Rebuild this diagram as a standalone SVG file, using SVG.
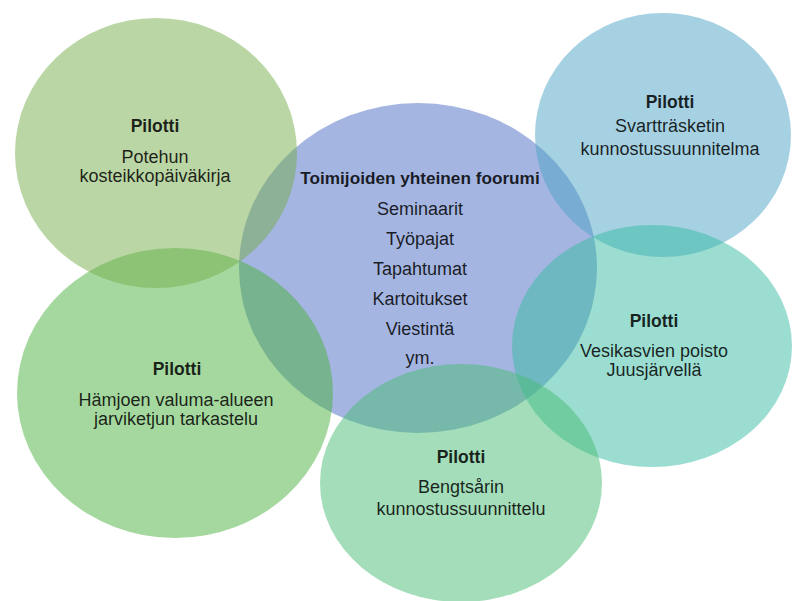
<svg xmlns="http://www.w3.org/2000/svg" width="793" height="601" viewBox="0 0 793 601">
<style>
.c{fill-opacity:0.5;stroke:none}
text{font-family:"Liberation Sans",Arial,sans-serif;text-anchor:middle;fill:#000;fill-opacity:0.85}
.b{font-weight:bold;font-size:17.5px}
.r{font-size:18px}
.t{font-weight:bold;font-size:17.2px}
</style>
<rect width="793" height="601" fill="#ffffff"/>
<g id="connectors"/>
<g id="node-center">
<ellipse class="c" cx="418" cy="268" rx="179" ry="165" fill="#496bc3"/>
<text class="t" x="420" y="184">Toimijoiden yhteinen foorumi</text>
<text class="r" x="420" y="215">Seminaarit</text>
<text class="r" x="420" y="245">Työpajat</text>
<text class="r" x="420" y="275">Tapahtumat</text>
<text class="r" x="420" y="305">Kartoitukset</text>
<text class="r" x="420" y="335">Viestintä</text>
<text class="r" x="420" y="364">ym.</text>
</g>
<g id="node-svarttrasket">
<ellipse class="c" cx="663" cy="135" rx="128" ry="122" fill="#4ba3c5"/>
<text class="b" x="670" y="108">Pilotti</text>
<text class="r" x="670" y="132">Svartträsketin</text>
<text class="r" x="670" y="155">kunnostussuunnitelma</text>
</g>
<g id="node-juusjarvi">
<ellipse class="c" cx="652" cy="346" rx="140" ry="121" fill="#37bba1"/>
<text class="b" x="654" y="327">Pilotti</text>
<text class="r" x="654" y="357">Vesikasvien poisto</text>
<text class="r" x="654" y="376">Juusjärvellä</text>
</g>
<g id="node-bengtsar">
<ellipse class="c" cx="461" cy="483" rx="141" ry="119" fill="#47bb73"/>
<text class="b" x="461" y="463">Pilotti</text>
<text class="r" x="461" y="493">Bengtsårin</text>
<text class="r" x="461" y="515">kunnostussuunnittelu</text>
</g>
<g id="node-hamjoki">
<ellipse class="c" cx="175" cy="393" rx="158" ry="145" fill="#4bb13d"/>
<text class="b" x="177" y="375">Pilotti</text>
<text class="r" x="176" y="406">Hämjoen valuma-alueen</text>
<text class="r" x="176" y="425">jarviketjun tarkastelu</text>
</g>
<g id="node-potehu">
<ellipse class="c" cx="156" cy="153" rx="141" ry="135" fill="#75ad4b"/>
<text class="b" x="155" y="132">Pilotti</text>
<text class="r" x="155" y="163">Potehun</text>
<text class="r" x="155" y="182">kosteikkopäiväkirja</text>
</g>
</svg>
